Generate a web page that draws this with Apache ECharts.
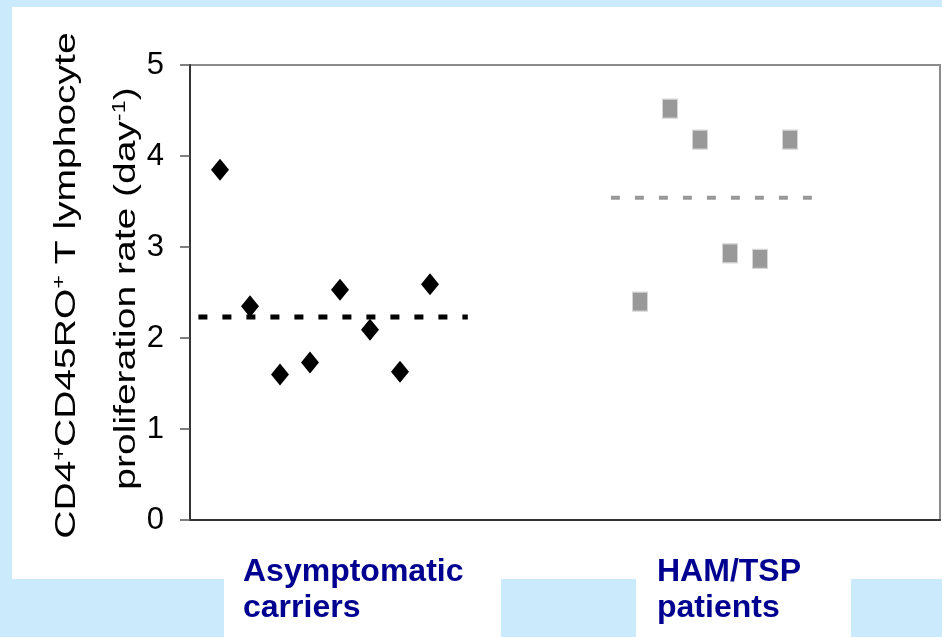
<!DOCTYPE html>
<html>
<head>
<meta charset="utf-8">
<script src="https://cdn.jsdelivr.net/npm/echarts@6/dist/echarts.min.js"></script>
<style>
  html, body { margin: 0; padding: 0; background: #cbebfc; }
  #chart { width: 942px; height: 637px; }
</style>
</head>
<body>
<div id="chart"></div>
<script>
// Proliferation rates (day^-1) per subject
const carrierRates = [3.85, 2.35, 1.60, 1.73, 2.53, 2.09, 1.63, 2.59];
const hamRates = [2.40, 4.52, 4.18, 2.93, 2.87, 4.18];
// Group means drawn as dotted lines
const groupMeans = [2.23, 3.54];
const groupNames = ['Asymptomatic\ncarriers', 'HAM/TSP\npatients'];
const yMin = 0, yMax = 5, yStep = 1;

// Horizontal slot layout of each group along the hidden x scale
const slotMax = 25;
const carrierStart = 1;
const hamStart = 15;
const carrierMeanSpan = [0.28, 9.26];
const hamMeanSpan = [14.03, 20.73];

const font = "'Liberation Sans', Arial, sans-serif";

const carrierPoints = carrierRates.map((v, i) => [carrierStart + i, v]);
const hamPoints = hamRates.map((v, i) => [hamStart + i, v]);

const chart = echarts.init(document.getElementById('chart'));

const option = {
  animation: false,
  backgroundColor: '#cbebfc',
  grid: {
    left: 190, top: 65, width: 750, height: 455,
    show: true, borderColor: '#8c8c8c', borderWidth: 2,
    backgroundColor: 'transparent'
  },
  xAxis: {
    type: 'value', min: 0, max: slotMax,
    axisLine: { show: true, onZero: false, lineStyle: { color: '#333', width: 2 } },
    axisTick: { show: false }, axisLabel: { show: false }, splitLine: { show: false }
  },
  yAxis: {
    type: 'value', min: yMin, max: yMax, interval: yStep,
    axisLine: { show: true, lineStyle: { color: '#333', width: 2 } },
    axisTick: { show: true, length: 10, lineStyle: { color: '#555', width: 1.5 } },
    axisLabel: { margin: 26, color: '#000', fontSize: 31, fontFamily: font },
    splitLine: { show: false }
  },
  graphic: [
    { type: 'rect', z: -10, shape: { x: 12, y: 7, width: 930, height: 572 }, style: { fill: '#fff' } },
    { type: 'rect', z: -10, shape: { x: 224, y: 579, width: 277, height: 58 }, style: { fill: '#fff' } },
    { type: 'rect', z: -10, shape: { x: 636, y: 579, width: 215, height: 58 }, style: { fill: '#fff' } },
    {
      type: 'text', x: 66.5, y: 285.5, rotation: Math.PI / 2, scaleX: 1.3,
      style: {
        text: 'CD4{sup|+}CD45RO{sup|+} T lymphocyte',
        align: 'center', verticalAlign: 'middle',
        fontSize: 30, fontFamily: font, fill: '#000',
        rich: { sup: { fontSize: 18, fontFamily: font, fill: '#000', verticalAlign: 'top' } }
      }
    },
    {
      type: 'text', x: 126.5, y: 288.5, rotation: Math.PI / 2, scaleX: 1.3,
      style: {
        text: 'proliferation rate (day{sup|-1})',
        align: 'center', verticalAlign: 'middle',
        fontSize: 30, fontFamily: font, fill: '#000',
        rich: { sup: { fontSize: 18, fontFamily: font, fill: '#000', verticalAlign: 'top' } }
      }
    },
    {
      type: 'text', x: 243, y: 590,
      style: {
        text: groupNames[0], align: 'left', verticalAlign: 'middle', lineHeight: 36,
        fontSize: 32, fontWeight: 'bold', fontFamily: font, fill: '#000090'
      }
    },
    {
      type: 'text', x: 657, y: 590,
      style: {
        text: groupNames[1], align: 'left', verticalAlign: 'middle', lineHeight: 36,
        fontSize: 32, fontWeight: 'bold', fontFamily: font, fill: '#000090'
      }
    }
  ],
  series: [
    {
      type: 'line', data: carrierMeanSpan.map(x => [x, groupMeans[0]]),
      symbol: 'none', z: 3,
      lineStyle: { color: '#000', width: 5, type: [9, 15], cap: 'butt' }
    },
    {
      type: 'line', data: hamMeanSpan.map(x => [x, groupMeans[1]]),
      symbol: 'none', z: 3,
      lineStyle: { color: '#999', width: 4, type: [9, 15], cap: 'butt' }
    },
    {
      type: 'scatter', data: carrierPoints, z: 4,
      symbol: 'diamond', symbolSize: [18, 22],
      itemStyle: { color: '#000', opacity: 1 }
    },
    {
      type: 'scatter', data: hamPoints, z: 4,
      symbol: 'rect', symbolSize: [15, 19],
      itemStyle: { color: '#999', borderColor: '#d6d6d6', borderWidth: 1, opacity: 1 }
    }
  ]
};

chart.setOption(option);
</script>
</body>
</html>
